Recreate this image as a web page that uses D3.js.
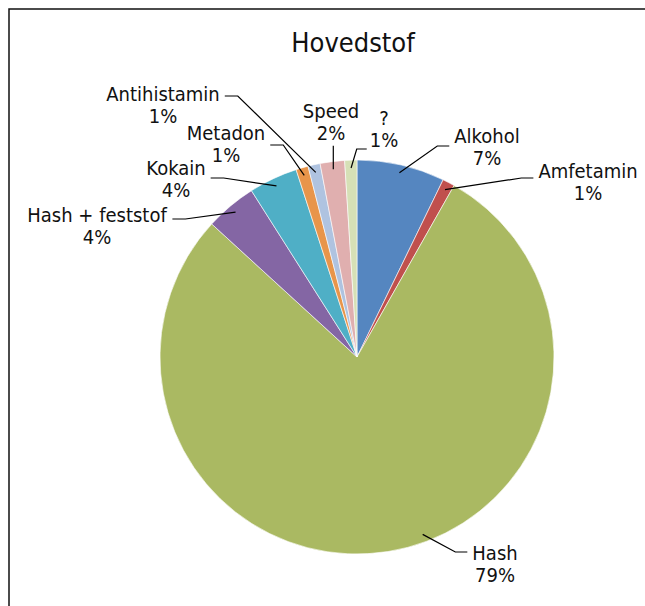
<!DOCTYPE html>
<html lang="en">
<head>
<meta charset="UTF-8">
<title>Hovedstof</title>
<script src="https://d3js.org/d3.v7.min.js"></script>
<style>
    body { margin: 0; background: #fff; }
    svg { display: block; }
    .label { font-family: "DejaVu Sans Condensed", "DejaVu Sans", sans-serif; font-size: 20px; fill: #111; }
    .title { font-family: "DejaVu Sans Condensed", "DejaVu Sans", sans-serif; font-size: 27px; fill: #111; }
    .leader { fill: none; stroke: #000; stroke-width: 1.2px; }
</style>
</head>
<body>
<svg id="chart"></svg>
<script>
// data (percent of total)
const categories = ["Alkohol", "Amfetamin", "Hash", "Hash + feststof", "Kokain", "Metadon", "Antihistamin", "Speed", "?"];
const values = [7.2, 1.0, 78.6, 4.2, 4.0, 1.0, 1.0, 2.0, 1.0];
const colors = ["#5586C0", "#C0504D", "#AAB962", "#8466A4", "#4FAFC6", "#E8954A", "#AFC3E0", "#E0AFAF", "#D6E0B6"];

// label placement: center x, baseline of first line, where the leader leaves the text,
// leader y offset, and where along the slice the leader ends (0..1)
const labelLayout = [
    { x: 487, y: 143, side: "left", dy: 3, at: 0.5 },
    { x: 588, y: 178, side: "left", dy: 0, at: 0.5 },
    { x: 495, y: 560, side: "left", dy: -8, at: 0.46 },
    { x: 97, y: 222, side: "right", dy: -3, at: 0.5 },
    { x: 176, y: 175, side: "right", dy: 3, at: 0.5 },
    { x: 226, y: 140, side: "right", dy: 5, at: 0.5 },
    { x: 163, y: 101, side: "right", dy: -5, at: 0.5 },
    { x: 331, y: 118, side: "below", dy: 0, at: 0.5 },
    { x: 384, y: 125, side: "belowleft", dy: 0, at: 0.5 }
];

const W = 645, H = 606;
const cx = 357, cy = 357, R = 197;

const svg = d3.select("#chart").attr("width", W).attr("height", H);

// chart frame
svg.append("rect")
    .attr("x", 9).attr("y", 9)
    .attr("width", W + 20).attr("height", H + 20)
    .attr("fill", "none").attr("stroke", "#111").attr("stroke-width", 1.5);

svg.append("text")
    .attr("class", "title")
    .attr("x", 353).attr("y", 52)
    .attr("text-anchor", "middle")
    .text("Hovedstof");

const total = d3.sum(values);
const data = categories.map((c, i) => ({ name: c, value: values[i], color: colors[i], layout: labelLayout[i] }));

const pie = d3.pie().sort(null).value(d => d.value);
const arc = d3.arc().innerRadius(0).outerRadius(R);
const arcs = pie(data);

const g = svg.append("g").attr("transform", `translate(${cx},${cy})`);

g.selectAll("path.slice")
    .data(arcs)
    .enter()
    .append("path")
    .attr("class", "slice")
    .attr("d", arc)
    .attr("fill", d => d.data.color)
    .attr("stroke", "#fff")
    .attr("stroke-width", 0.6);

// labels and leader lines
const fmt = v => Math.round(v / total * 100) + "%";

arcs.forEach(a => {
    const L = a.data.layout;
    const t = svg.append("text")
        .attr("class", "label")
        .attr("text-anchor", "middle");
    t.append("tspan").attr("x", L.x).attr("y", L.y).text(a.data.name);
    t.append("tspan").attr("x", L.x).attr("y", L.y + 21.7).text(fmt(a.data.value));

    const bb = t.node().getBBox();
    const ang = a.startAngle + (a.endAngle - a.startAngle) * L.at;
    const rr = R * 0.96;
    const end = [cx + rr * Math.sin(ang), cy - rr * Math.cos(ang)];
    let pts;
    if (L.side === "right") {
        const y0 = L.y + L.dy;
        const x0 = bb.x + bb.width + 5;
        pts = [[x0, y0], [x0 + 13, y0], end];
    } else if (L.side === "left") {
        const y0 = L.y + L.dy;
        const x0 = bb.x - 5;
        pts = [[x0, y0], [x0 - 12, y0], end];
    } else if (L.side === "below") {
        pts = [[end[0], bb.y + bb.height + 1], end];
    } else {
        const y0 = L.y + 24;
        const x0 = bb.x - 3;
        pts = [[x0, y0], [x0 - 10, y0], end];
    }
    svg.append("path")
        .attr("class", "leader")
        .attr("d", d3.line()(pts));
});
</script>
</body>
</html>
